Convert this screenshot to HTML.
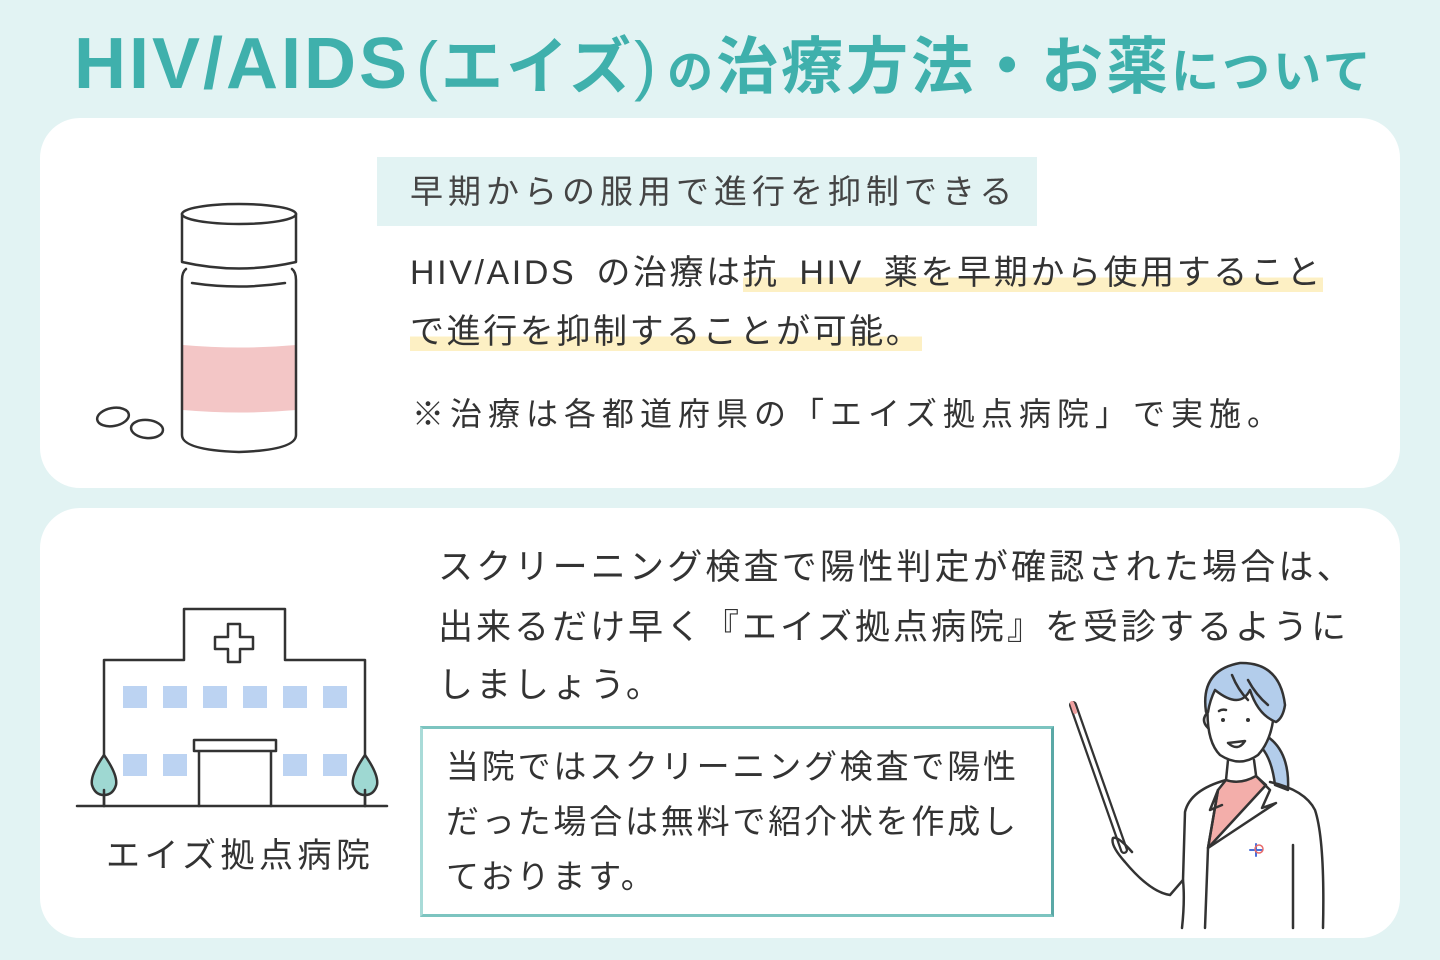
<!DOCTYPE html>
<html><head><meta charset="utf-8"><style>
*{margin:0;padding:0;box-sizing:border-box}
body{width:1440px;height:960px;background:#e2f3f3;position:relative;overflow:hidden;font-family:"Liberation Sans","Noto Sans CJK JP",sans-serif;color:#333}
.t{position:absolute;white-space:nowrap;line-height:1}
.card{position:absolute;left:40px;width:1360px;background:#fff;border-radius:40px}
.hl{background:linear-gradient(transparent 62%,#fdf0c4 62%)}
.p{font-family:'Liberation Sans';font-weight:normal;font-size:66px}
</style></head><body>
<div class="t" style="left:74px;top:28px;font-size:62px;font-weight:bold;color:#3fb0ac;letter-spacing:3px"><span style="font-size:72px;letter-spacing:3px">HIV/AIDS</span><span class="p" style="margin-left:6px">(</span>エイズ<span class="p" style="margin-right:8px">)</span><span style="font-size:46px">の</span>治療方法・お薬<span style="font-size:48px">について</span></div>
<div class="card" style="top:118px;height:370px"></div>
<div class="card" style="top:508px;height:430px"></div>
<div style="position:absolute;left:377px;top:157px;width:660px;height:69px;background:#e2f3f3"></div>
<div class="t" style="left:410px;top:175px;font-size:33px;color:#444;letter-spacing:5px">早期からの服用で進行を抑制できる</div>
<div class="t" style="left:410px;top:256px;font-size:34px;letter-spacing:2.6px;word-spacing:8px">HIV/AIDS の治療は<span class="hl">抗 HIV 薬を早期から使用すること</span></div>
<div class="t" style="left:410px;top:315px;font-size:34px;letter-spacing:2.6px"><span class="hl">で進行を抑制することが可能。</span></div>
<div class="t" style="left:412px;top:398px;font-size:32px;letter-spacing:6px">※治療は各都道府県の「エイズ拠点病院」で実施。</div>
<div class="t" style="left:438px;top:550px;font-size:35px;letter-spacing:3.2px">スクリーニング検査で陽性判定が確認された場合は、</div>
<div class="t" style="left:438px;top:610px;font-size:35px;letter-spacing:3px">出来るだけ早く『エイズ拠点病院』を受診するように</div>
<div class="t" style="left:438px;top:668px;font-size:35px;letter-spacing:3px">しましょう。</div>
<div style="position:absolute;left:420px;top:726px;width:634px;height:191px;border:3px solid #7cc4c0;border-left-color:#a9dbd8;border-right-color:#5aa8a6"></div>
<div class="t" style="left:446px;top:750px;font-size:33px;letter-spacing:2.8px">当院ではスクリーニング検査で陽性</div>
<div class="t" style="left:446px;top:805px;font-size:33px;letter-spacing:2.8px">だった場合は無料で紹介状を作成し</div>
<div class="t" style="left:446px;top:860px;font-size:33px;letter-spacing:2.8px">ております。</div>
<div class="t" style="left:106px;top:839px;font-size:34px;letter-spacing:4.5px">エイズ拠点病院</div>
<svg width="1440" height="960" style="position:absolute;left:0;top:0" fill="none" stroke="#333" stroke-width="2.5" stroke-linejoin="round" stroke-linecap="round">
<path d="M183 345 Q240 350 296 345 V410 Q240 415 183 410 Z" fill="#f3c6c6" stroke="none"/>
<ellipse cx="239" cy="214" rx="57" ry="10" fill="#fff"/>
<path d="M182 214 V262 Q239 275 296 262 V214"/>
<path d="M186 269 Q182 272 182 280 V435 Q182 450 239 452 Q296 450 296 435 V280 Q296 272 292 269"/>
<path d="M192 283 Q239 290 285 283"/>
<ellipse cx="113" cy="417" rx="16" ry="9" transform="rotate(-10 113 417)"/>
<ellipse cx="147" cy="429" rx="16" ry="9" transform="rotate(5 147 429)"/>
<path d="M77 806 H387"/>
<path d="M104 806 V660 H184 V609 H285 V660 H365 V806"/>
<path d="M228 624 h12 v13 h13 v12 h-13 v13 h-12 v-13 h-13 v-12 h13 z"/>
<g fill="#bcd3f2" stroke="none">
<rect x="123" y="686" width="24" height="22"/><rect x="163" y="686" width="24" height="22"/><rect x="203" y="686" width="24" height="22"/><rect x="243" y="686" width="24" height="22"/><rect x="283" y="686" width="24" height="22"/><rect x="323" y="686" width="24" height="22"/>
<rect x="123" y="754" width="24" height="22"/><rect x="163" y="754" width="24" height="22"/><rect x="283" y="754" width="24" height="22"/><rect x="323" y="754" width="24" height="22"/>
</g>
<path d="M194 740 H276 V751 H194 Z M199 751 V806 M271 751 V806"/>
<path d="M104 755 Q90 775 92 785 Q95 795 104 795 Q113 795 116 785 Q118 775 104 755 Z M104 790 V806" fill="#9ed8d2"/>
<path d="M365 755 Q351 775 353 785 Q356 795 365 795 Q374 795 377 785 Q379 775 365 755 Z M365 790 V806" fill="#9ed8d2"/>
<path d="M1073 705 L1124 850" stroke-width="8"/>
<path d="M1073 705 L1124 850" stroke="#fff" stroke-width="3.5"/>
<path d="M1072 703 L1075 712" stroke="#f0a0a0" stroke-width="4"/>
<path d="M1265 735 Q1290 750 1288 790 L1275 785 Q1272 760 1262 748 Z" fill="#b3cdeb"/>
<path d="M1208 700 Q1205 740 1220 755 Q1240 768 1258 755 Q1272 740 1274 712" fill="#fff"/>
<path d="M1208 712 Q1200 720 1208 728"/>
<path d="M1206 712 Q1200 670 1240 663 Q1280 662 1285 705 Q1283 718 1276 722 Q1258 715 1250 690 Q1240 710 1215 690 Q1210 700 1208 712 Z" fill="#b3cdeb"/>
<path d="M1232 675 Q1238 690 1248 700 M1248 680 Q1256 695 1268 705"/>
<circle cx="1223" cy="720" r="2" fill="#333" stroke="none"/><circle cx="1248" cy="720" r="2" fill="#333" stroke="none"/>
<path d="M1226 710 Q1222 709 1219 711"/>
<path d="M1228 743 Q1238 752 1245 741 Z" fill="#fff"/>
<path d="M1228 760 L1226 780 M1254 760 L1256 775"/>
<path d="M1218 790 L1226 780 Q1240 785 1256 776 L1266 785 L1208 848 Z" fill="#f3aeaa"/>
<path d="M1226 780 Q1190 790 1185 812 L1183 880 L1170 895 Q1150 892 1125 862 Q1110 845 1113 838 Q1118 836 1132 852"/>
<path d="M1183 880 Q1185 900 1182 928 M1208 848 L1205 928 M1208 848 L1218 790 L1210 810 L1222 805 M1256 776 L1270 790 L1262 808 L1276 803 L1208 848"/>
<path d="M1270 782 Q1305 790 1315 810 Q1325 840 1323 928 M1293 845 V928"/>
<path d="M1250 850 h12 M1256 844 v12" stroke="#4a6fd8" stroke-width="2"/>
<circle cx="1259" cy="849" r="4" stroke="#e86a6a" stroke-width="1.5"/>
</svg>
</body></html>
